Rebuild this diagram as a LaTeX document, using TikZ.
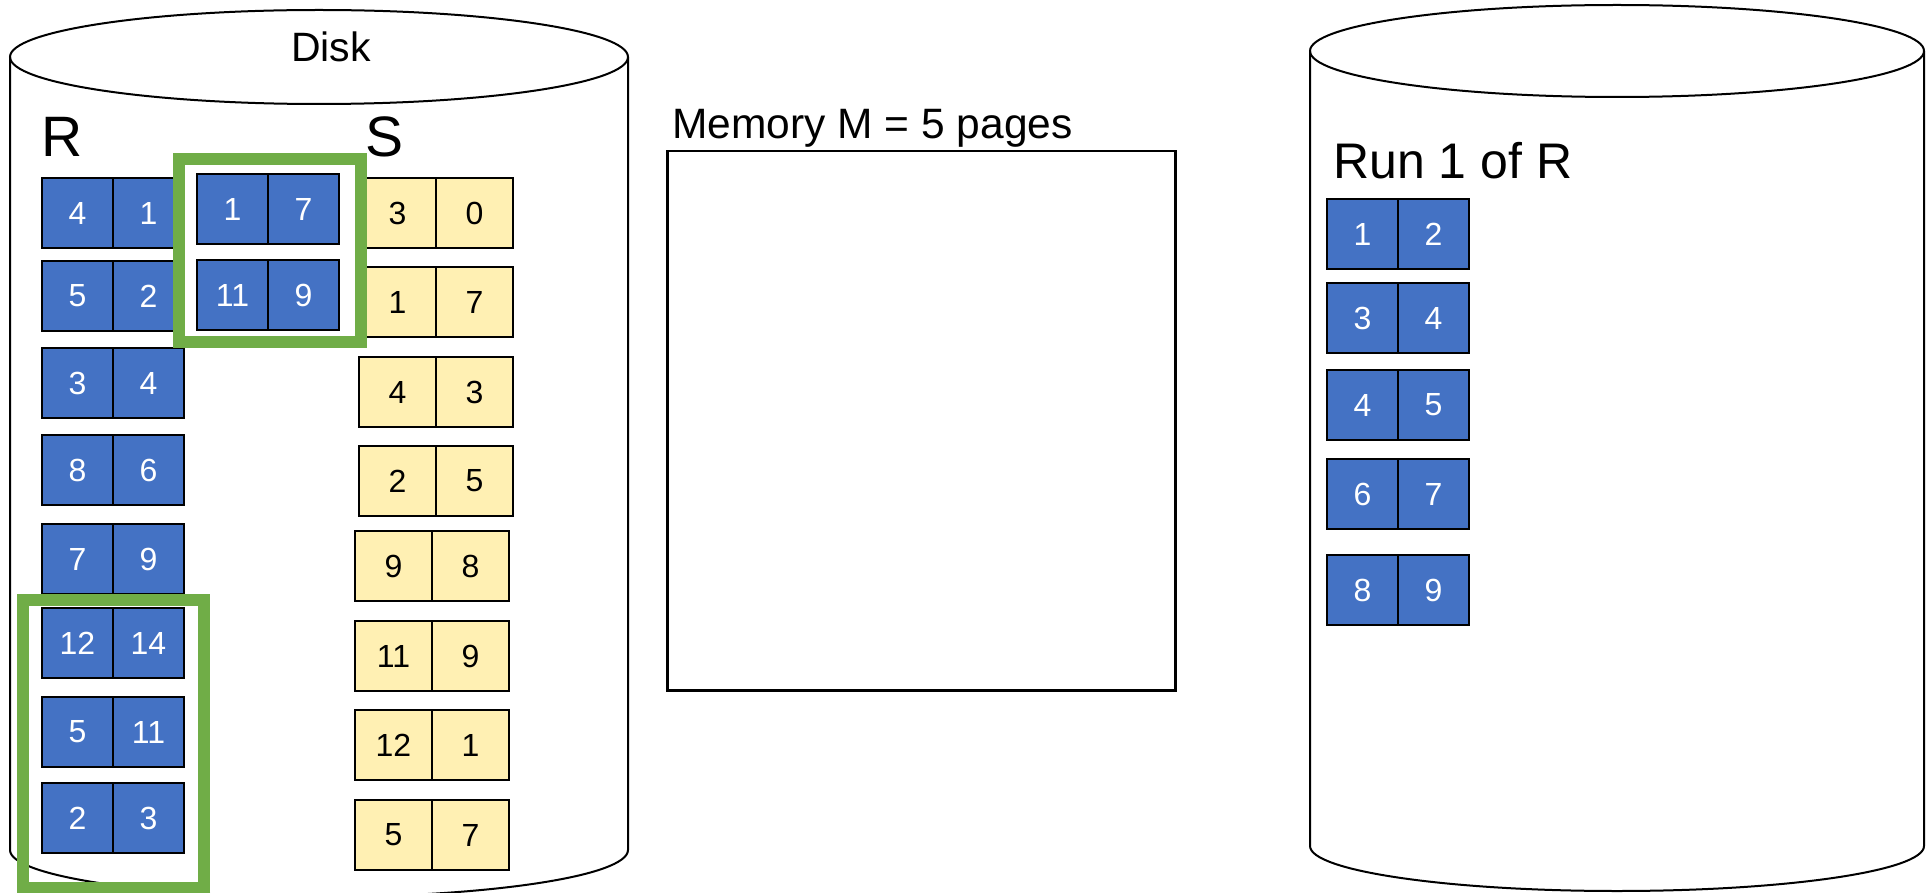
\documentclass[tikz,border=0pt]{standalone}
\usepackage{fontspec}
\setmainfont{Liberation Sans}
\usetikzlibrary{positioning}
\definecolor{pageblue}{HTML}{4472C4}
\definecolor{pageyellow}{HTML}{FFF0B3}
\definecolor{rungreen}{HTML}{70AD47}
\tikzset{rcell/.style={ % one value of a page of R
			draw,
			line width=2.5pt,
			fill=pageblue,
			text=white,
			inner sep=0pt,
			outer sep=0pt,
			minimum width=71pt,
			minimum height=70pt,
			font=\fontsize{32}{36}\selectfont},
		scell/.style={rcell, fill=pageyellow, text=black, minimum width=77pt},
		label/.style={anchor=base west, inner sep=0pt},
		disk/.style={line width=2pt}}

\begin{document}
\begin{tikzpicture}[x=1pt, y=-1pt]
			\useasboundingbox (0,0) rectangle (1927,893);
			\fill[white] (0,0) rectangle (1927,893);
			% disk holding R and S
			\draw[disk] (10,57) -- (10,850) arc[start angle=180, end angle=360, x radius=309pt, y radius=47pt] -- (628,57);
			\draw[disk] (319,57) ellipse[x radius=309pt, y radius=47pt];
			\node[anchor=base, inner sep=0pt, font=\fontsize{41}{44}\selectfont] (disk) at (331,62) {Disk};
			\node[label, font=\fontsize{57}{60}\selectfont] (R) at (41,157) {R};
			\node[label, font=\fontsize{57}{60}\selectfont] (S) at (365,157) {S};

			\node[rcell, anchor=north west] (R1a) at (42,178) {4}; \node[rcell, right=0pt of R1a] (R1b) {1};
			\node[rcell, anchor=north west] (R2a) at (42,261) {5}; \node[rcell, right=0pt of R2a] (R2b) {2};
			\node[rcell, anchor=north west] (R3a) at (42,348) {3}; \node[rcell, right=0pt of R3a] (R3b) {4};
			\node[rcell, anchor=north west] (R4a) at (42,435) {8}; \node[rcell, right=0pt of R4a] (R4b) {6};
			\node[rcell, anchor=north west] (R5a) at (42,524) {7}; \node[rcell, right=0pt of R5a] (R5b) {9};
			\node[rcell, anchor=north west] (R6a) at (42,608) {12}; \node[rcell, right=0pt of R6a] (R6b) {14};
			\node[rcell, anchor=north west] (R7a) at (42,697) {5}; \node[rcell, right=0pt of R7a] (R7b) {11};
			\node[rcell, anchor=north west] (R8a) at (42,783) {2}; \node[rcell, right=0pt of R8a] (R8b) {3};
			\node[rcell, anchor=north west] (R9a) at (197,174) {1}; \node[rcell, right=0pt of R9a] (R9b) {7};
			\node[rcell, anchor=north west] (R10a) at (197,260) {11}; \node[rcell, right=0pt of R10a] (R10b) {9};

			\node[scell, anchor=north west] (S1a) at (359,178) {3}; \node[scell, right=0pt of S1a] (S1b) {0};
			\node[scell, anchor=north west] (S2a) at (359,267) {1}; \node[scell, right=0pt of S2a] (S2b) {7};
			\node[scell, anchor=north west] (S3a) at (359,357) {4}; \node[scell, right=0pt of S3a] (S3b) {3};
			\node[scell, anchor=north west] (S4a) at (359,446) {2}; \node[scell, right=0pt of S4a] (S4b) {5};
			\node[scell, anchor=north west] (S5a) at (355,531) {9}; \node[scell, right=0pt of S5a] (S5b) {8};
			\node[scell, anchor=north west] (S6a) at (355,621) {11}; \node[scell, right=0pt of S6a] (S6b) {9};
			\node[scell, anchor=north west] (S7a) at (355,710) {12}; \node[scell, right=0pt of S7a] (S7b) {1};
			\node[scell, anchor=north west] (S8a) at (355,800) {5}; \node[scell, right=0pt of S8a] (S8b) {7};

			% pages read into memory
			\draw[rungreen, line width=12pt] (179,159) rectangle (361,342);
			\draw[rungreen, line width=12pt] (23,600) rectangle (204,888);

			% memory
			\node[draw, line width=2.5pt, anchor=north west, inner sep=0pt, minimum width=508pt, minimum height=539pt] (mem) at (666,150) {};
			\node[label, font=\fontsize{42.5}{46}\selectfont] (memlabel) at (672,139) {Memory M = 5 pages};

			% disk holding the runs
			\draw[disk] (1310,51) -- (1310,846) arc[start angle=180, end angle=360, x radius=307pt, y radius=45pt] -- (1924,51);
			\draw[disk] (1617,51) ellipse[x radius=307pt, y radius=46pt];
			\node[label, font=\fontsize{50}{54}\selectfont] (run) at (1333,179) {Run 1 of R};

			\node[rcell, anchor=north west] (T1a) at (1327,199) {1}; \node[rcell, right=0pt of T1a] (T1b) {2};
			\node[rcell, anchor=north west] (T2a) at (1327,283) {3}; \node[rcell, right=0pt of T2a] (T2b) {4};
			\node[rcell, anchor=north west] (T3a) at (1327,370) {4}; \node[rcell, right=0pt of T3a] (T3b) {5};
			\node[rcell, anchor=north west] (T4a) at (1327,459) {6}; \node[rcell, right=0pt of T4a] (T4b) {7};
			\node[rcell, anchor=north west] (T5a) at (1327,555) {8}; \node[rcell, right=0pt of T5a] (T5b) {9};
		\end{tikzpicture}
\end{document}
